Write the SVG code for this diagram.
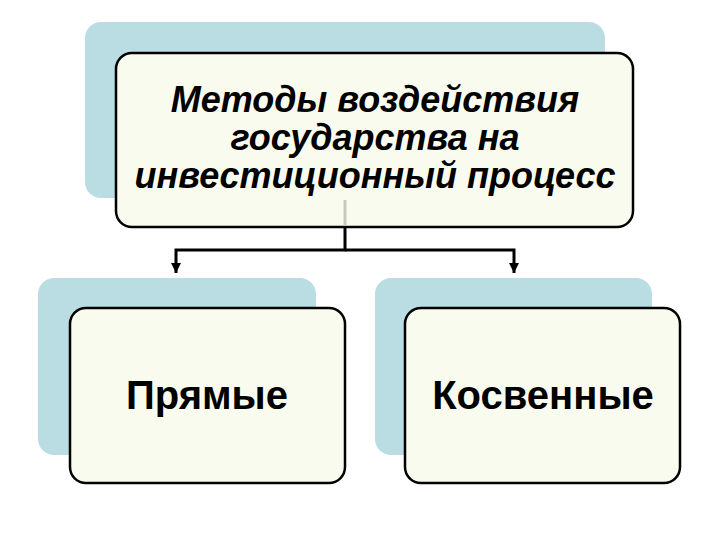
<svg xmlns="http://www.w3.org/2000/svg" width="720" height="540" viewBox="0 0 720 540">
<defs>
<style>
.back{fill:#b9dde3;stroke:none}
.front{fill:#fafbef;stroke:#000;stroke-width:2.5}
.t{font-family:"Liberation Sans",Arial,sans-serif;font-weight:bold;fill:#000;text-anchor:middle}
.ti{font-style:italic;font-size:36px}
.tb{font-size:40px}
.conn{fill:none;stroke:#000;stroke-width:3}
</style>
<marker id="ah" viewBox="0 0 10 10" refX="10" refY="5" markerWidth="10" markerHeight="10" markerUnits="userSpaceOnUse" orient="auto">
<path d="M0,0 L10,5 L0,10 Z" fill="#000"/>
</marker>
</defs>
<rect width="720" height="540" fill="#fff"/>
<g id="root">
<rect class="back" x="85" y="22" width="520" height="176" rx="16"/>
<rect class="front" x="116" y="53" width="517" height="174" rx="16"/>
<text class="t ti" x="375" y="112">Методы воздействия</text>
<text class="t ti" x="375" y="150">государства на</text>
<text class="t ti" x="375" y="188">инвестиционный процесс</text>
</g>
<g id="direct">
<rect class="back" x="38" y="278" width="278" height="177" rx="16"/>
<rect class="front" x="70" y="308" width="275" height="175" rx="16"/>
<text class="t tb" x="207" y="409">Прямые</text>
</g>
<g id="indirect">
<rect class="back" x="375" y="278" width="277" height="177" rx="16"/>
<rect class="front" x="405" y="308" width="275" height="175" rx="16"/>
<text class="t tb" x="543" y="409">Косвенные</text>
</g>
<g id="connectors">
<line x1="345" y1="200" x2="345" y2="226" stroke="#c8c8c0" stroke-width="3"/>
<path class="conn" d="M345,228 V250 H176 V273" marker-end="url(#ah)"/>
<path class="conn" d="M345,250 H514 V273" marker-end="url(#ah)"/>
</g>
</svg>
